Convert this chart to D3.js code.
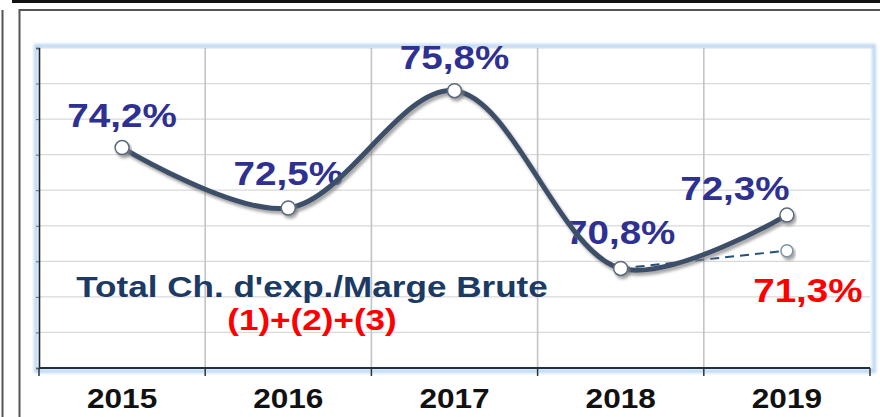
<!DOCTYPE html>
<html>
<head>
<meta charset="utf-8">
<script src="https://cdnjs.cloudflare.com/ajax/libs/d3/7.8.5/d3.min.js"></script>
<style>
  html, body { margin: 0; padding: 0; background: #fff; }
  svg { display: block; }
  text { font-family: "Liberation Sans", Arial, sans-serif; font-weight: bold; }
</style>
</head>
<body>
<div id="chart"></div>
<script>
// data
var years = ['2015', '2016', '2017', '2018', '2019'];
var ratioValues = [74.2, 72.5, 75.8, 70.8, 72.3];
var altValues = [null, null, null, 70.8, 71.3];
var yTicks = [68, 69, 70, 71, 72, 73, 74, 75, 76, 77];
var titleLines = ["Total Ch. d'exp./Marge Brute", "(1)+(2)+(3)"];

// label placement relative to the point
var labelDx = [0, 0, 0, 0, -52];
var labelDy = [-21, -23, -22, -24, -15];
var altLabelDx = 21, altLabelDy = 51;

var width = 880, height = 417;
var plot = {left: 39, right: 870, top: 48, bottom: 368};
var sx = 1.17; // the original text is stretched a little sideways

var fmt = function (v) { return v.toFixed(1).replace('.', ',') + '%'; };

var svg = d3.select('#chart').append('svg')
   .attr('width', width)
   .attr('height', height);

var defs = svg.append('defs');
var shadow = defs.append('filter').attr('id', 'shadow')
   .attr('x', '-20%').attr('y', '-20%').attr('width', '140%').attr('height', '160%');
shadow.append('feDropShadow')
   .attr('dx', 2).attr('dy', 3).attr('stdDeviation', 1.8)
   .attr('flood-color', '#7f7f7f').attr('flood-opacity', 0.7);
var glow = defs.append('filter').attr('id', 'glow')
   .attr('x', '-5%').attr('y', '-5%').attr('width', '110%').attr('height', '110%');
glow.append('feGaussianBlur').attr('stdDeviation', 1.5);

// outer frames
svg.append('line').attr('x1', 12).attr('x2', width).attr('y1', 1.5).attr('y2', 1.5)
   .attr('stroke', '#111').attr('stroke-width', 3);
svg.append('line').attr('x1', 2.5).attr('x2', 2.5).attr('y1', 10).attr('y2', height)
   .attr('stroke', '#555').attr('stroke-width', 2);
svg.append('path').attr('d', 'M19.5,' + height + 'V10H' + width)
   .attr('fill', 'none').attr('stroke', '#555').attr('stroke-width', 2);

// plot area with its soft blue edge
svg.append('rect')
   .attr('x', plot.left - 3).attr('y', plot.top - 2)
   .attr('width', plot.right - plot.left + 7).attr('height', plot.bottom - plot.top + 5)
   .attr('fill', '#fff').attr('stroke', '#b9d7f4').attr('stroke-width', 4)
   .attr('filter', 'url(#glow)');
svg.append('rect')
   .attr('x', plot.left).attr('y', plot.top)
   .attr('width', plot.right - plot.left).attr('height', plot.bottom - plot.top)
   .attr('fill', '#fff');

var x = d3.scaleBand().domain(years).range([plot.left, plot.right]);
var y = d3.scaleLinear().domain([yTicks[0], yTicks[yTicks.length - 1]]).range([plot.bottom, plot.top]);
var cx = function (d) { return x(d) + x.bandwidth() / 2; };

// horizontal grid
svg.append('g').selectAll('line').data(yTicks.slice(1)).enter().append('line')
   .attr('x1', plot.left).attr('x2', plot.right)
   .attr('y1', function (d) { return y(d); }).attr('y2', function (d) { return y(d); })
   .attr('stroke', '#d9d9d9').attr('stroke-width', 1.2);

// vertical grid on the category edges
svg.append('g').selectAll('line').data(years.slice(1)).enter().append('line')
   .attr('x1', function (d) { return x(d); }).attr('x2', function (d) { return x(d); })
   .attr('y1', plot.top).attr('y2', plot.bottom)
   .attr('stroke', '#c4c4c4').attr('stroke-width', 1.6);

// left axis
var yAxis = svg.append('g')
   .attr('transform', 'translate(' + plot.left + ',0)')
   .call(d3.axisLeft(y).tickValues(yTicks).tickSize(3).tickFormat(''));
yAxis.select('.domain').attr('stroke', '#222').attr('stroke-width', 1.6);
yAxis.selectAll('.tick line').attr('stroke', '#666');

// bottom axis: ticks on the category edges
var edges = years.map(function (d) { return x(d); }).concat([plot.right]);
var xAxis = svg.append('g');
xAxis.append('line')
   .attr('x1', plot.left).attr('x2', plot.right)
   .attr('y1', plot.bottom).attr('y2', plot.bottom)
   .attr('stroke', '#1f2f44').attr('stroke-width', 2);
xAxis.selectAll('line.tk').data(edges).enter().append('line').attr('class', 'tk')
   .attr('x1', function (d) { return d; }).attr('x2', function (d) { return d; })
   .attr('y1', plot.bottom).attr('y2', plot.bottom + 8)
   .attr('stroke', '#333').attr('stroke-width', 1.5);
xAxis.selectAll('text').data(years).enter().append('text')
   .attr('transform', function (d) { return 'translate(' + cx(d) + ',408) scale(' + sx + ',1)'; })
   .attr('text-anchor', 'middle')
   .attr('font-size', 27)
   .attr('fill', '#111')
   .text(function (d) { return d; });

// value labels (under the line, like the original)
svg.append('g').selectAll('text').data(ratioValues).enter().append('text')
   .attr('transform', function (d, i) {
      return 'translate(' + (cx(years[i]) + labelDx[i]) + ',' + (y(d) + labelDy[i]) + ') scale(' + sx + ',1)';
   })
   .attr('text-anchor', 'middle')
   .attr('font-size', 33)
   .attr('fill', '#2e3092')
   .text(function (d) { return fmt(d); });

var lastAlt = altValues.length - 1;
svg.append('text')
   .attr('transform', 'translate(' + (cx(years[lastAlt]) + altLabelDx) + ',' + (y(altValues[lastAlt]) + altLabelDy) + ') scale(' + sx + ',1)')
   .attr('text-anchor', 'middle')
   .attr('font-size', 33)
   .attr('fill', '#ff0000')
   .text(fmt(altValues[lastAlt]));

// title inside the plot
svg.append('text')
   .attr('transform', 'translate(312,297) scale(' + sx + ',1)')
   .attr('text-anchor', 'middle')
   .attr('font-size', 30)
   .attr('fill', '#1b3a64')
   .text(titleLines[0]);
svg.append('text')
   .attr('transform', 'translate(312,330) scale(' + sx + ',1)')
   .attr('text-anchor', 'middle')
   .attr('font-size', 30)
   .attr('fill', '#ff0000')
   .text(titleLines[1]);

// dashed alternative series
var altPts = altValues.map(function (v, i) { return {year: years[i], v: v}; })
   .filter(function (d) { return d.v !== null; });
var altLine = d3.line()
   .x(function (d) { return cx(d.year); })
   .y(function (d) { return y(d.v); });
svg.append('path').datum(altPts)
   .attr('d', altLine)
   .attr('fill', 'none')
   .attr('stroke', '#24507a')
   .attr('stroke-width', 2)
   .attr('stroke-dasharray', '9,6');
svg.append('circle').datum(altPts[altPts.length - 1])
   .attr('cx', function (d) { return cx(d.year); })
   .attr('cy', function (d) { return y(d.v); })
   .attr('r', 6)
   .attr('fill', '#fff')
   .attr('stroke', '#7d93ab')
   .attr('stroke-width', 1.5)
   .attr('filter', 'url(#shadow)');

// main smoothed series
var pts = ratioValues.map(function (v, i) { return {year: years[i], v: v}; });
var mainLine = d3.line()
   .x(function (d) { return cx(d.year); })
   .y(function (d) { return y(d.v); })
   .curve(d3.curveCatmullRom.alpha(0.5));
svg.append('path').datum(pts)
   .attr('d', mainLine)
   .attr('fill', 'none')
   .attr('stroke', '#3e5068')
   .attr('stroke-width', 5)
   .attr('stroke-linecap', 'round')
   .attr('filter', 'url(#shadow)');

svg.append('g').selectAll('circle').data(pts).enter().append('circle')
   .attr('cx', function (d) { return cx(d.year); })
   .attr('cy', function (d) { return y(d.v); })
   .attr('r', 7)
   .attr('fill', '#fff')
   .attr('stroke', '#5b6b7e')
   .attr('stroke-width', 1.5)
   .attr('filter', 'url(#shadow)');
</script>
</body>
</html>
